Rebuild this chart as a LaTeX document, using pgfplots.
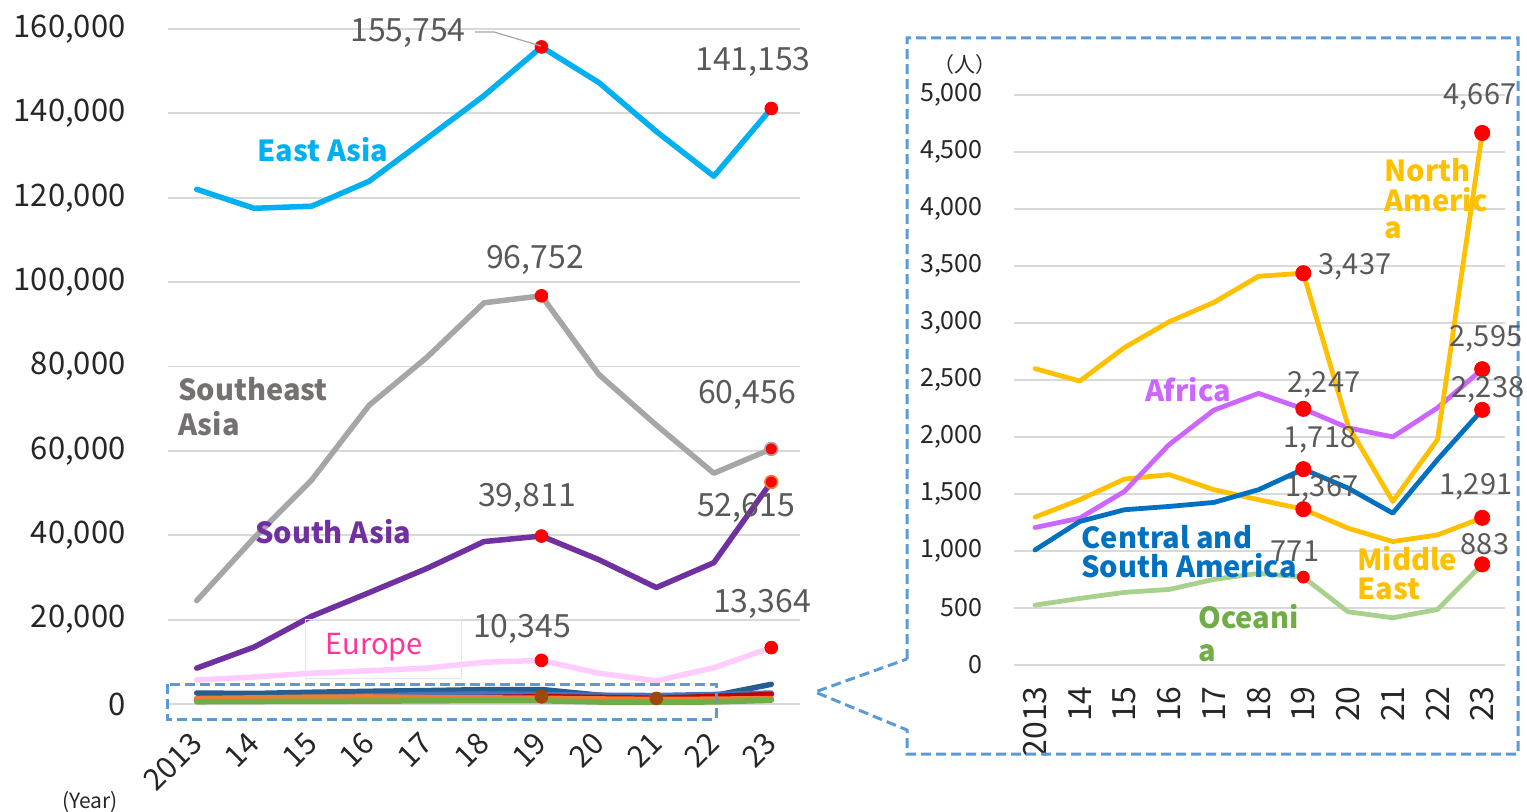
\documentclass[border=0pt]{standalone}
\usepackage{pgfplots}
\pgfplotsset{compat=1.18}
\usepackage{fontspec}
\setmainfont{Noto Sans CJK JP}
\definecolor{ea}{HTML}{00B0F0}
\definecolor{sea}{HTML}{A6A6A6}
\definecolor{seal}{HTML}{767171}
\definecolor{sa}{HTML}{7030A0}
\definecolor{eu}{HTML}{FFCCFF}
\definecolor{eul}{HTML}{FF3399}
\definecolor{nav}{HTML}{255E91}
\definecolor{lblue}{HTML}{4472C4}
\definecolor{dred}{HTML}{C00000}
\definecolor{lgreen}{HTML}{70AD47}
\definecolor{orn}{HTML}{ED7D31}
\definecolor{gold}{HTML}{FFC000}
\definecolor{afr}{HTML}{CC66FF}
\definecolor{csa}{HTML}{0070C0}
\definecolor{oce}{HTML}{A9D18E}
\definecolor{gridc}{HTML}{D9D9D9}
\definecolor{tickc}{HTML}{262626}
\definecolor{dlab}{HTML}{595959}
\definecolor{dashc}{HTML}{5B9BD5}
\definecolor{brn}{HTML}{9E480E}
\begin{document}
\begin{tikzpicture}
\path[use as bounding box] (0,0) rectangle (763.5pt,405.5pt);
% ---------------- left axis ----------------
\begin{axis}[
  at={(84pt,53.5pt)}, anchor=south west, scale only axis,
  width=316pt, height=337.5pt,
  xmin=-0.5, xmax=10.5, ymin=0, ymax=160000, clip=false,
  axis line style={draw=none}, major tick length=0pt,
  scaled y ticks=false, scaled x ticks=false,
  ytick={0,20000,40000,60000,80000,100000,120000,140000,160000},
  yticklabels={0,{20,000},{40,000},{60,000},{80,000},{100,000},{120,000},{140,000},{160,000}},
  ymajorgrids, grid style={draw=gridc, line width=0.9pt},
  yticklabel style={font=\fontsize{15.5}{18}\selectfont, text=tickc, anchor=east, inner sep=0pt, xshift=-21pt},
  xtick={0,...,10}, xticklabels={2013,14,15,16,17,18,19,20,21,22,23},
  xticklabel style={font=\fontsize{15}{18}\selectfont, text=tickc, inner sep=0pt, yshift=-17pt, rotate=45, anchor=east},
  no markers, every axis plot/.append style={line join=round, line cap=round},
]
% small series (detail in inset)
\addplot[nav, line width=2.75pt] coordinates {(0,2600)(1,2491)(2,2785)(3,3011)(4,3181)(5,3410)(6,3437)(7,2100)(8,1435)(9,1978)(10,4667)};
\addplot[lblue, line width=2.75pt] coordinates {(0,1206)(1,1288)(2,1523)(3,1934)(4,2236)(5,2383)(6,2247)(7,2080)(8,2001)(9,2256)(10,2595)};
\addplot[dred, line width=2.75pt] coordinates {(0,1009)(1,1259)(2,1362)(3,1391)(4,1426)(5,1538)(6,1718)(7,1552)(8,1332)(9,1801)(10,2238)};
\addplot[orn, line width=2.75pt] coordinates {(0,1297)(1,1450)(2,1631)(3,1670)(4,1538)(5,1450)(6,1367)(7,1200)(8,1083)(9,1141)(10,1291)};
\addplot[lgreen, line width=2.75pt] coordinates {(0,525)(1,584)(2,637)(3,663)(4,751)(5,804)(6,771)(7,467)(8,414)(9,487)(10,883)};
% Europe
\addplot[eu, line width=2.75pt] coordinates {(0,5700)(1,6400)(2,7300)(3,7900)(4,8500)(5,9900)(6,10345)(7,7300)(8,5500)(9,8600)(10,13364)};
% South Asia
\addplot[sa, line width=2.75pt] coordinates {(0,8500)(1,13500)(2,20800)(3,26400)(4,32100)(5,38500)(6,39811)(7,34200)(8,27600)(9,33500)(10,52615)};
% Southeast Asia
\addplot[sea, line width=2.75pt] coordinates {(0,24500)(1,39400)(2,53100)(3,70800)(4,82100)(5,95100)(6,96752)(7,78100)(8,66100)(9,54700)(10,60456)};
% East Asia
\addplot[ea, line width=2.75pt] coordinates {(0,122000)(1,117500)(2,118000)(3,123900)(4,134000)(5,144200)(6,155754)(7,147300)(8,135700)(9,125100)(10,141153)};
% markers
\addplot[only marks, mark=*, mark size=3.2pt, draw=red, fill=red] coordinates {(6,155754)(10,141153)(6,96752)(6,39811)(6,10345)(10,13364)};
\addplot[only marks, mark=*, mark size=3.2pt, draw=sea, fill=red, line width=0.8pt] coordinates {(10,60456)};
\addplot[only marks, mark=*, mark size=3.2pt, draw=orn, fill=red, line width=0.8pt] coordinates {(10,52615)};
\addplot[only marks, mark=*, mark size=3.2pt, draw=brn, fill=brn] coordinates {(6,1718)(8,1332)};
\end{axis}
% ---------------- right axis ----------------
\begin{axis}[
  at={(507pt,73pt)}, anchor=south west, scale only axis,
  width=245.5pt, height=285pt,
  xmin=-0.47, xmax=10.51, ymin=0, ymax=5000, clip=false,
  axis line style={draw=none}, major tick length=0pt,
  scaled y ticks=false, scaled x ticks=false,
  ytick={0,500,1000,1500,2000,2500,3000,3500,4000,4500,5000},
  yticklabels={0,500,{1,000},{1,500},{2,000},{2,500},{3,000},{3,500},{4,000},{4,500},{5,000}},
  ymajorgrids, grid style={draw=gridc, line width=0.9pt},
  yticklabel style={font=\fontsize{12.5}{15}\selectfont, text=tickc, anchor=east, inner sep=0pt, xshift=-15.5pt},
  xtick={0,...,10}, xticklabels={2013,14,15,16,17,18,19,20,21,22,23},
  xticklabel style={font=\fontsize{16}{19}\selectfont, text=tickc, inner sep=0pt, yshift=-10.5pt, rotate=90, anchor=east},
  no markers, every axis plot/.append style={line join=round, line cap=round},
]
\addplot[oce, line width=2.4pt] coordinates {(0,525)(1,584)(2,637)(3,663)(4,751)(5,804)(6,771)(7,467)(8,414)(9,487)(10,883)};
\addplot[gold, line width=2.4pt] coordinates {(0,1297)(1,1450)(2,1631)(3,1670)(4,1538)(5,1450)(6,1367)(7,1200)(8,1083)(9,1141)(10,1291)};
\addplot[afr, line width=2.4pt] coordinates {(0,1206)(1,1288)(2,1523)(3,1934)(4,2236)(5,2383)(6,2247)(7,2080)(8,2001)(9,2256)(10,2595)};
\addplot[csa, line width=2.4pt] coordinates {(0,1009)(1,1259)(2,1362)(3,1391)(4,1426)(5,1538)(6,1718)(7,1552)(8,1332)(9,1801)(10,2238)};
\addplot[gold, line width=2.4pt] coordinates {(0,2600)(1,2491)(2,2785)(3,3011)(4,3181)(5,3410)(6,3437)(7,2100)(8,1435)(9,1978)(10,4667)};
\addplot[only marks, mark=*, mark size=3.8pt, draw=red, fill=red] coordinates {(6,3437)(10,4667)(6,2247)(10,2595)(6,1718)(10,2238)(6,1367)(10,1291)(10,883)};
\addplot[only marks, mark=*, mark size=3pt, draw=red, fill=red] coordinates {(6,771)};
\end{axis}
% ---------------- annotations (pixel frame) ----------------
\begin{scope}[x=0.5pt, y=-0.5pt, shift={(0pt,405.5pt)}]
\draw[gridc!70, line width=0.4pt] (305,619) rectangle (461,678);
\draw[dashc, line width=1.5pt, dash pattern=on 5pt off 2.5pt] (167,684) rectangle (716,719);
\draw[dashc, line width=1.5pt, dash pattern=on 5pt off 2.5pt] (907,659) -- (907,38) -- (1518,38) -- (1518,754) -- (907,754) -- (907,730) -- (815,692) -- cycle;
\draw[sea, line width=0.6pt] (475,32) -- (494,32) -- (541,46);
% data labels left
\begin{scope}[every node/.style={text=dlab, font=\fontsize{16}{19}\selectfont, inner sep=0pt}]
\node at (408,33) {155,754};
\node at (753,62) {141,153};
\node at (535,260) {96,752};
\node at (747,395) {60,456};
\node at (527,498) {39,811};
\node at (746,508) {52,615};
\node at (522,629) {10,345};
\node at (762,604) {13,364};
\end{scope}
% data labels right
\begin{scope}[every node/.style={text=dlab, font=\fontsize{14.5}{17}\selectfont, inner sep=0pt}]
\node at (1480,97) {4,667};
\node at (1355,267) {3,437};
\node at (1486,339) {2,595};
\node at (1324,385) {2,247};
\node at (1488,390) {2,238};
\node at (1320,440) {1,718};
\node at (1322,489) {1,367};
\node at (1476,487) {1,291};
\node at (1295,551) {771};
\node at (1485,544) {883};
\end{scope}
% series labels left
\begin{scope}[every node/.style={font=\fontsize{14.5}{17}\selectfont\bfseries, inner sep=0pt}]
\node[text=ea] at (323,150) {East Asia};
\node[text=seal, anchor=west] at (178,389) {Southeast};
\node[text=seal, anchor=west] at (178,424) {Asia};
\node[text=sa] at (333,532) {South Asia};
\node[text=eul, font=\fontsize{14.5}{17}\selectfont] at (374,647) {Europe};
\end{scope}
% series labels right
\begin{scope}[every node/.style={font=\fontsize{14.5}{17}\selectfont\bfseries, inner sep=0pt, anchor=west}]
\node[text=gold] at (1384,170) {North};
\node[text=gold] at (1384,200) {Americ};
\node[text=gold] at (1384,230) {a};
\node[text=afr, anchor=center] at (1188,390) {Africa};
\node[text=csa] at (1081,537) {Central and};
\node[text=csa] at (1081,566) {South America};
\node[text=gold] at (1357,559) {Middle};
\node[text=gold] at (1357,589) {East};
\node[text=lgreen] at (1198,617) {Oceani};
\node[text=lgreen] at (1198,653) {a};
\end{scope}
\node[text=tickc, font=\fontsize{10.5}{12}\selectfont, inner sep=0pt] at (90,802) {(Year)};
\node[text=tickc, font=\fontsize{10.5}{12}\selectfont, inner sep=0pt] at (965,65) {（人）};
\end{scope}
\end{tikzpicture}
\end{document}
